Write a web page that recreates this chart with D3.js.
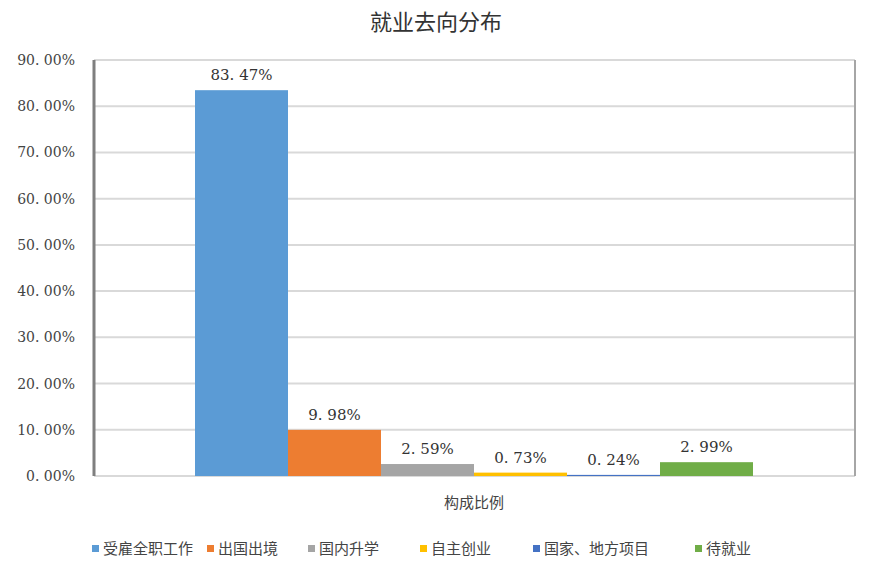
<!DOCTYPE html>
<html><head><meta charset="utf-8">
<script src="https://cdn.jsdelivr.net/npm/d3@7"></script>
<style>body{margin:0;background:#fff}</style>
</head><body>
<svg id="c" width="872" height="564"></svg>
<script>
const categories = ["受雇全职工作", "出国出境", "国内升学", "自主创业", "国家、地方项目", "待就业"];
const values = [83.47, 9.98, 2.59, 0.73, 0.24, 2.99];
const colors = ["#5b9bd5", "#ed7d31", "#a5a5a5", "#ffc000", "#4472c4", "#70ad47"];
const yTicks = [0, 10, 20, 30, 40, 50, 60, 70, 80, 90];
const groupLabel = "构成比例";

const svg = d3.select("#c");
const m = { l: 94, r: 855, t: 60, b: 476 };
const y = d3.scaleLinear().domain([0, 90]).range([m.b, m.t]);
const x = d3.scaleBand().domain(categories).range([195, 753]);
const num = "'DejaVu Serif', serif";
const cjk = "'Noto Sans CJK SC', sans-serif";

svg.append("text").attr("x", 436).attr("y", 30).attr("text-anchor", "middle")
  .attr("font-family", cjk).attr("font-size", 22).attr("fill", "#333").text("就业去向分布");

// gridlines
svg.append("g").selectAll("line").data(yTicks).join("line")
  .attr("x1", m.l).attr("x2", m.r).attr("y1", d => y(d)).attr("y2", d => y(d))
  .attr("stroke", "#d9d9d9").attr("stroke-width", 2);

svg.append("g").selectAll("text").data(yTicks).join("text")
  .attr("x", 75).attr("y", d => y(d) + 5).attr("text-anchor", "end")
  .attr("font-family", num).attr("font-size", 14).attr("fill", "#444")
  .text(d => d.toFixed(2).replace(".", ". ") + "%");

svg.append("line").attr("x1", m.l).attr("x2", m.l).attr("y1", m.t).attr("y2", m.b)
  .attr("stroke", "#7f7f7f").attr("stroke-width", 3);
svg.append("line").attr("x1", m.r).attr("x2", m.r).attr("y1", m.t).attr("y2", m.b)
  .attr("stroke", "#a6a6a6").attr("stroke-width", 2);

svg.append("g").selectAll("rect").data(values).join("rect")
  .attr("x", (d, i) => x(categories[i])).attr("width", x.bandwidth())
  .attr("y", d => y(d)).attr("height", d => m.b - y(d))
  .attr("fill", (d, i) => colors[i]);

svg.append("g").selectAll("text").data(values).join("text")
  .attr("x", (d, i) => x(categories[i]) + x.bandwidth() / 2)
  .attr("y", d => y(d) - 10).attr("text-anchor", "middle")
  .attr("font-family", num).attr("font-size", 15).attr("fill", "#333")
  .text(d => d.toFixed(2).replace(".", ". ") + "%");

svg.append("text").attr("x", 474).attr("y", 508).attr("text-anchor", "middle")
  .attr("font-family", cjk).attr("font-size", 15).attr("fill", "#444").text(groupLabel);

// legend
const lx = [92, 207, 308, 420, 533, 695];
const lg = svg.append("g").selectAll("g").data(categories).join("g")
  .attr("transform", (d, i) => `translate(${lx[i]},549)`);
lg.append("rect").attr("x", 0).attr("y", -4).attr("width", 7).attr("height", 7)
  .attr("fill", (d, i) => colors[i]);
lg.append("text").attr("x", 11).attr("y", 5).attr("font-family", cjk).attr("font-size", 15)
  .attr("fill", "#444").text(d => d);
</script>
</body></html>
